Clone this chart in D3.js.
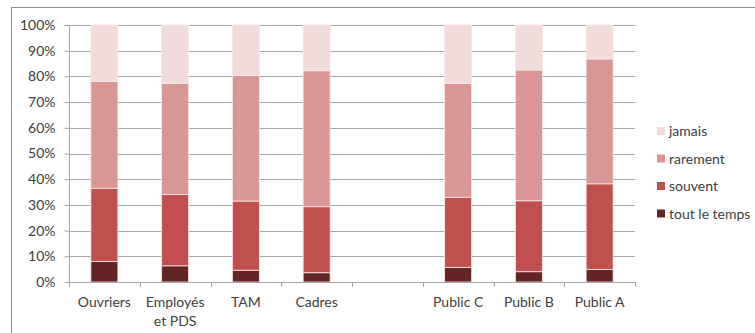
<!DOCTYPE html>
<html><head><meta charset="utf-8">
<script src="https://cdn.jsdelivr.net/npm/d3@7"></script>
<style>body{margin:0;background:#fff}svg{display:block}text{font-family:Lato,"Open Sans",sans-serif;fill:#404040}</style>
</head><body><svg id="c" width="755" height="333"></svg>
<script>
const categories = ["Ouvriers","Employés\net PDS","TAM","Cadres","","Public C","Public B","Public A"];
const seriesNames = ["tout le temps","souvent","rarement","jamais"];
const toutLeTemps = [8.0, 6.3, 4.6, 3.6, null, 5.7, 4.0, 4.9];
const souvent     = [28.5, 27.8, 26.9, 25.7, null, 27.3, 27.6, 33.3];
const rarement    = [41.5, 43.2, 48.8, 52.9, null, 44.3, 50.9, 48.6];
const jamais      = [22.0, 22.7, 19.7, 17.8, null, 22.7, 17.5, 13.2];
const yTicks = [0,10,20,30,40,50,60,70,80,90,100];
const colors = ["#632523","#c0504d","#d99694","#f2dcdb"];

const svg = d3.select("#c");
svg.append("rect").attr("x",11.5).attr("y",7.5).attr("width",760).attr("height",340)
  .attr("fill","none").attr("stroke","#8c8c8c").attr("stroke-width",1);

const x = d3.scaleBand().domain(d3.range(categories.length)).range([69,635]).paddingInner(0);
const y = d3.scaleLinear().domain([0,100]).range([282,25]);

// gridlines
svg.append("g").selectAll("line").data(yTicks.filter(d=>d>0)).join("line")
  .attr("x1",69).attr("x2",635).attr("y1",d=>Math.round(y(d))+0.5).attr("y2",d=>Math.round(y(d))+0.5)
  .attr("stroke","#a6a6a6");

// y axis
const ya = svg.append("g").attr("transform","translate(69.5,0)")
  .call(d3.axisLeft(y).tickValues(yTicks).tickFormat(d=>d+"%").tickSize(5).tickPadding(9));
ya.select(".domain").attr("stroke","#a6a6a6").attr("d","M0,25V282");
ya.selectAll(".tick line").attr("stroke","#a6a6a6");
ya.selectAll("text").style("font-size","14px").attr("fill","#404040");

// stacked data
const rows = categories.map((c,i)=>({i, "tout le temps":toutLeTemps[i], "souvent":souvent[i], "rarement":rarement[i], "jamais":jamais[i]}))
  .filter(r=>r["jamais"]!==null);
const stack = d3.stack().keys(seriesNames)(rows);
const bw = 27;
svg.append("g").selectAll("g").data(stack).join("g").attr("fill",(d,k)=>colors[k])
  .selectAll("rect").data(d=>d).join("rect")
  .attr("x",d=>x(d.data.i)+x.bandwidth()/2-bw/2)
  .attr("width",bw)
  .attr("y",d=>y(d[1]))
  .attr("height",d=>y(d[0])-y(d[1]))
  .attr("stroke","#fbe9e7").attr("stroke-width",0.8);

// x axis
svg.append("line").attr("x1",69).attr("x2",635).attr("y1",282.5).attr("y2",282.5).attr("stroke","#a6a6a6");
svg.append("g").selectAll("line").data(d3.range(categories.length+1)).join("line")
  .attr("x1",d=>Math.round(69+d*x.bandwidth())+0.5).attr("x2",d=>Math.round(69+d*x.bandwidth())+0.5)
  .attr("y1",282).attr("y2",287).attr("stroke","#a6a6a6");

const xl = svg.append("g").selectAll("text").data(categories.map((c,i)=>({c,i}))).join("text")
  .attr("x",d=>x(d.i)+x.bandwidth()/2).attr("y",307)
  .attr("text-anchor","middle").style("font-size","14px");
xl.each(function(d){
  const lines = d.c.split("\n");
  d3.select(this).selectAll("tspan").data(lines).join("tspan")
    .attr("x",x(d.i)+x.bandwidth()/2).attr("dy",(l,k)=>k===0?0:19).text(l=>l);
});

// legend
const leg = svg.append("g").selectAll("g").data(seriesNames.slice().reverse()).join("g")
  .attr("transform",(d,k)=>`translate(657,${131+k*27.5})`);
leg.append("rect").attr("x",0).attr("y",-4).attr("width",8).attr("height",8)
  .attr("fill",d=>colors[seriesNames.indexOf(d)]);
leg.append("text").attr("x",12).attr("y",5).style("font-size","14px").text(d=>d);
</script></body></html>
